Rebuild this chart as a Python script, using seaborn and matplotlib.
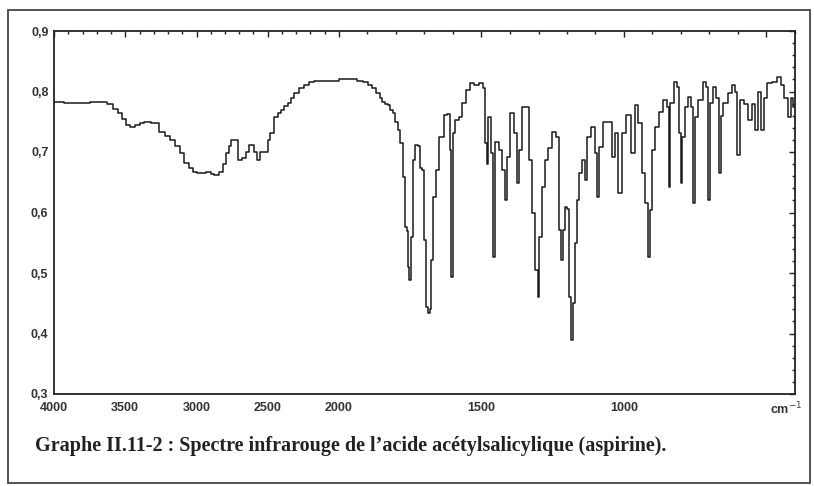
import numpy as np
import pandas as pd
import matplotlib
matplotlib.use("Agg")
import matplotlib.pyplot as plt
from matplotlib.patches import Rectangle
from matplotlib.ticker import FixedLocator
import seaborn as sns

# ---- data (wavenumber cm-1, transmittance) ----
wavenumber = [4000, 3853, 3643, 3608, 3559, 3538, 3510, 3483, 3448, 3413,
              3385, 3350, 3294, 3238, 3203, 3168, 3133, 3105, 3070, 3042,
              3014, 2986, 2958, 2909, 2888, 2860, 2825, 2804, 2783, 2762,
              2748, 2713, 2699, 2664, 2643, 2615, 2580, 2573, 2538, 2510,
              2490, 2476, 2441, 2420, 2399, 2371, 2350, 2329, 2301, 2266,
              2231, 2196, 2161, 2091, 2021, 1982, 1965, 1947, 1930, 1905,
              1888, 1877, 1860, 1853, 1842, 1832, 1825, 1814, 1807, 1797,
              1790, 1779, 1772, 1765, 1758,
              1755, 1751, 1744, 1737, 1727, 1720, 1713, 1706, 1699, 1692,
              1685, 1678, 1674, 1664, 1657, 1639, 1625, 1615, 1608, 1604,
              1597, 1587, 1573, 1562, 1545, 1534, 1517, 1499, 1492, 1485,
              1478, 1475, 1468, 1464, 1457, 1447, 1433, 1422, 1415, 1405,
              1394, 1380, 1373, 1363, 1352, 1342, 1328, 1317, 1307, 1300,
              1293, 1282, 1272, 1258, 1247, 1233, 1223, 1219, 1212, 1205,
              1198, 1191, 1184, 1177, 1170, 1163, 1153, 1142, 1132, 1125,
              1107, 1097, 1093, 1083, 1065, 1048, 1037, 1027, 1013, 1002,
              985, 967, 957, 942, 932, 921, 914, 907, 897, 887,
              869, 855, 845, 841, 834, 817, 810, 803, 799, 792,
              782, 768, 761, 754, 747, 733, 715, 708, 705, 694,
              680, 673, 663, 659, 645, 628, 617, 607, 600, 589,
              572, 558, 547, 537, 523, 516, 505, 488, 470, 453,
              442, 432, 418, 411, 400]
transmittance = [0.783, 0.781, 0.783, 0.780, 0.771, 0.765, 0.755, 0.745, 0.741, 0.745,
                 0.748, 0.749, 0.748, 0.733, 0.727, 0.720, 0.710, 0.698, 0.682, 0.673,
                 0.667, 0.665, 0.665, 0.667, 0.664, 0.662, 0.667, 0.680, 0.698, 0.710,
                 0.720, 0.720, 0.687, 0.690, 0.700, 0.712, 0.700, 0.687, 0.700, 0.700,
                 0.720, 0.731, 0.758, 0.765, 0.769, 0.776, 0.781, 0.790, 0.797, 0.805,
                 0.811, 0.815, 0.818, 0.818, 0.818, 0.820, 0.820, 0.820, 0.818, 0.816,
                 0.810, 0.805, 0.797, 0.790, 0.783, 0.780, 0.778, 0.770, 0.764, 0.750,
                 0.736, 0.715, 0.659, 0.576, 0.570,
                 0.510, 0.488, 0.560, 0.687, 0.712, 0.710, 0.674, 0.670, 0.555, 0.444,
                 0.434, 0.440, 0.521, 0.626, 0.670, 0.725, 0.761, 0.763, 0.703, 0.493,
                 0.731, 0.753, 0.758, 0.781, 0.802, 0.814, 0.811, 0.814, 0.806, 0.715,
                 0.680, 0.758, 0.758, 0.698, 0.526, 0.717, 0.703, 0.670, 0.620, 0.692,
                 0.764, 0.731, 0.649, 0.703, 0.774, 0.774, 0.687, 0.599, 0.505, 0.460,
                 0.560, 0.642, 0.687, 0.707, 0.733, 0.725, 0.571, 0.521, 0.571, 0.609,
                 0.605, 0.460, 0.389, 0.450, 0.550, 0.620, 0.665, 0.687, 0.654, 0.725,
                 0.741, 0.698, 0.626, 0.708, 0.750, 0.750, 0.692, 0.731, 0.632, 0.731,
                 0.761, 0.698, 0.778, 0.748, 0.665, 0.616, 0.526, 0.604, 0.703, 0.741,
                 0.766, 0.786, 0.774, 0.642, 0.781, 0.816, 0.807, 0.731, 0.649, 0.725,
                 0.774, 0.791, 0.775, 0.616, 0.758, 0.786, 0.816, 0.807, 0.621, 0.781,
                 0.807, 0.790, 0.665, 0.760, 0.781, 0.797, 0.811, 0.800, 0.695, 0.786,
                 0.780, 0.753, 0.780, 0.736, 0.799, 0.736, 0.790, 0.814, 0.815, 0.824,
                 0.810, 0.789, 0.758, 0.790, 0.775]

x_major_ticks = [4000, 3500, 3000, 2500, 2000, 1500, 1000, 500]
x_major_labels = ["4000", "3500", "3000", "2500", "2000", "1500", "1000", ""]
x_minor_ticks = list(range(400, 4001, 100))
y_major_ticks = [0.3, 0.4, 0.5, 0.6, 0.7, 0.8, 0.9]
y_major_labels = ["0,3", "0,4", "0,5", "0,6", "0,7", "0,8", "0,9"]
y_minor_ticks = [round(0.3 + 0.02 * i, 2) for i in range(31)]
caption = "Graphe II.11-2 : Spectre infrarouge de l\u2019acide acétylsalicylique (aspirine)."
unit_label = "cm$^{-1}$"

# ---- figure ----
sns.set_style("white")
plt.rcParams["font.family"] = ["Liberation Sans", "DejaVu Sans"]

fig = plt.figure(figsize=(8.14, 4.86), dpi=100)
ax = fig.add_axes([54 / 814, 1 - 394 / 486, (795 - 54) / 814, (394 - 31) / 486])

df = pd.DataFrame({"wn": wavenumber, "T": transmittance})
sns.lineplot(data=df, x="wn", y="T", ax=ax, color="#1a1a1a", lw=1.1,
             drawstyle="steps-mid", sort=True, estimator=None)


def fwd(w):
    w = np.asarray(w, dtype=float)
    return np.where(w <= 2000, w, 2000 + (w - 2000) / 2.0)


def inv(u):
    u = np.asarray(u, dtype=float)
    return np.where(u <= 2000, u, 2000 + (u - 2000) * 2.0)


ax.set_xscale("function", functions=(fwd, inv))
ax.set_xlim(4000, 400)
ax.set_ylim(0.3, 0.9)

ax.xaxis.set_major_locator(FixedLocator(x_major_ticks))
ax.xaxis.set_minor_locator(FixedLocator(x_minor_ticks))
ax.set_xticklabels(x_major_labels)
ax.yaxis.set_major_locator(FixedLocator(y_major_ticks))
ax.yaxis.set_minor_locator(FixedLocator(y_minor_ticks))
ax.set_yticklabels(y_major_labels)

ax.tick_params(which="both", direction="in", top=True, right=True,
               color="#222222", width=1.0)
ax.tick_params(which="major", length=4.5)
ax.tick_params(which="minor", length=2.5)
ax.tick_params(axis="x", which="major", pad=6, labelsize=9, labelcolor="#333333")
ax.tick_params(axis="y", which="major", pad=4, labelsize=9, labelcolor="#333333")
for lab in ax.get_xticklabels() + ax.get_yticklabels():
    lab.set_fontweight("bold")
for sp in ax.spines.values():
    sp.set_linewidth(1.3)
    sp.set_color("#222222")
ax.set_xlabel("")
ax.set_ylabel("")

fig.text(786 / 814, 1 - 409 / 486, unit_label, ha="center", va="center",
         fontsize=9, color="#333333", fontweight="bold")

fig.text(35 / 814, 1 - 446 / 486, caption, ha="left", va="center",
         fontsize=14.5, fontweight="bold", color="#222222",
         family=["Liberation Serif", "DejaVu Serif"])

fig.patches.append(Rectangle((8 / 814, 3 / 486), 802 / 814, 473 / 486,
                             transform=fig.transFigure, fill=False,
                             edgecolor="#444444", lw=1.3))

fig.savefig("out.png", dpi=100, facecolor="white")
